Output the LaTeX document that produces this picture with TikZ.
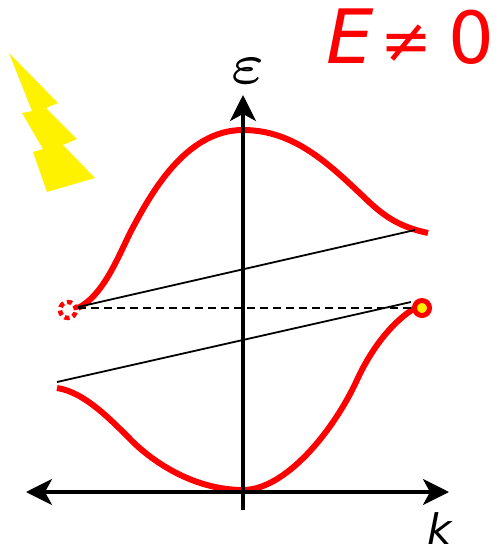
\documentclass[tikz,border=0pt]{standalone}
\usepackage{fontspec}
\setmainfont{DejaVu Sans}
\usetikzlibrary{arrows.meta}
\begin{document}
\begin{tikzpicture}[x=1pt,y=-1pt,
  band/.style={draw=red, line width=6pt},
  ax/.style={{Stealth[length=26pt,width=26pt,inset=7pt]}-{Stealth[length=26pt,width=26pt,inset=7pt]}, line width=3.5pt},
  axup/.style={-{Stealth[length=26pt,width=26pt,inset=7pt]}, line width=3.5pt},
  trans/.style={line width=1.8pt},
  lab/.style={inner sep=0pt, anchor=base}]
\useasboundingbox (0,0) rectangle (497,554);
% field bolt
\fill[yellow] (9,53) -- (58,103) -- (46,108) -- (77,139) -- (63,145) -- (95,178) -- (47,192)
  -- (33,152) -- (43,149) -- (22,113) -- (32,111) -- cycle;
% ends of the lines
\coordinate (left)  at (26,492);
\coordinate (right) at (449,492);
\coordinate (bot)   at (243,510);
\coordinate (top)   at (243,95);
\coordinate (upA)   at (78,307);
\coordinate (upB)   at (415,230);
\coordinate (loA)   at (57,382);
\coordinate (loB)   at (411,302);
\coordinate (midA)  at (78,308);
\coordinate (midB)  at (413,308);
% bands
\draw[band] (78,308) .. controls (102,296) and (116,262) .. (130,233)
  .. controls (150,195) and (185,130) .. (243,130)
  .. controls (295,130) and (330,165) .. (367,200)
  .. controls (385,217) and (400,227) .. (428,233);
\draw[band] (57,388) .. controls (85,392) and (113,422) .. (133,442)
  .. controls (160,468) and (200,490) .. (243,490)
  .. controls (285,490) and (333,432) .. (357,380)
  .. controls (373,345) and (395,320) .. (415,308);
% axes
\draw[ax] (left) -- (right);
\draw[axup] (bot) -- (top);
% transitions
\draw[trans] (upA) -- (upB);
\draw[trans] (loA) -- (loB);
\draw[trans, dashed, dash pattern=on 8pt off 5pt] (midA) -- (midB);
% hole and old state
\node[circle, draw=red, fill=yellow, line width=5pt, minimum size=15pt, inner sep=0pt] (hole) at (422,308) {};
\node[circle, draw=red, dash pattern=on 5pt off 3.5pt, line width=4.5pt, minimum size=16pt, inner sep=0pt] (old) at (68,310) {};
% labels
\node[lab, text=red, font=\fontsize{75}{80}\selectfont\itshape] (field) at (350,63) {E};
\node[lab, text=red, font=\fontsize{62}{70}\selectfont] (neq) at (406,62) {≠};
\node[lab, text=red, font=\fontsize{72}{80}\selectfont] (zero) at (471,63) {0};
\node[scale=11.5] (eps) at (248,71) {$\scriptscriptstyle\varepsilon$};
\node[lab, font=\fontsize{42}{48}\selectfont\itshape] (wave) at (440,544) {k};
\end{tikzpicture}
\end{document}
